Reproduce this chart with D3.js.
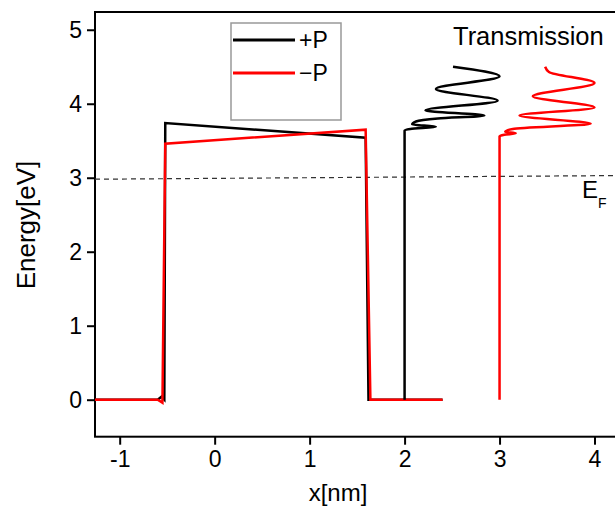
<!DOCTYPE html>
<html>
<head>
<meta charset="utf-8">
<script src="https://cdn.jsdelivr.net/npm/d3@7"></script>
<style>
  body { margin: 0; background: #fff; }
  svg { font-family: "Liberation Sans", Arial, sans-serif; }
</style>
</head>
<body>
<svg id="chart" width="615" height="509"></svg>
<script>
// barrier profiles (x in nm, energy in eV)
const plusX  = [-1.26, -0.6, -0.56, -0.53, -0.52, 1.59, 1.62, 2.4]
const plusE  = [0, 0, 0.04, 0, 3.74, 3.54, 0, 0]
const minusX = [-1.26, -0.6, -0.55, -0.52, 1.59, 1.64, 2.4]
const minusE = [0, 0, -0.04, 3.46, 3.65, 0, 0]

// transmission curves, drawn at x = offset + T
const transPlusOffset = 2
const transPlusE = [0, 3.64, 3.66, 3.69, 3.72, 3.76, 3.80, 3.84, 3.91, 4.04, 4.20, 4.37, 4.50]
const transPlusT = [0, 0, 0.06, 0.33, 0.08, 0.12, 0.35, 0.84, 0.22, 0.98, 0.33, 1.0, 0.51]
const transMinusOffset = 3
const transMinusE = [0, 3.56, 3.58, 3.60, 3.62, 3.66, 3.73, 3.84, 3.95, 4.10, 4.28, 4.43, 4.50]
const transMinusT = [0, 0, 0.05, 0.17, 0.06, 0.14, 0.96, 0.21, 1.0, 0.35, 1.0, 0.52, 0.48]

// Fermi level
const fermiX = [-1.26, 4.3]
const fermiE = [2.98, 3.03]

const xTicks = [-1, 0, 1, 2, 3, 4]
const yTicks = [0, 1, 2, 3, 4, 5]
const legendLabels = ["+P", "\u2212P"]
const colors = ["#000000", "#ff0000"]

const svg = d3.select("#chart")
const margin = { top: 12, left: 95 }
const plotW = 528, plotH = 424.7

const x = d3.scaleLinear().domain([-1.26, 4.3]).range([margin.left, margin.left + plotW])
const y = d3.scaleLinear().domain([-0.5, 5.24]).range([margin.top + plotH, margin.top])

const fmt = d => String(d)  // plain hyphen for negatives, like the original

// axes
const xAxis = d3.axisBottom(x).tickValues(xTicks).tickSize(8).tickPadding(6).tickFormat(fmt)
const xMinor = d3.axisBottom(x).tickValues(d3.range(-1, 4.5, 0.5)).tickSize(4).tickFormat("")
const yAxis = d3.axisLeft(y).tickValues(yTicks).tickSize(8).tickPadding(5).tickFormat(fmt)
const yMinor = d3.axisLeft(y).tickValues(d3.range(-0.5, 5.1, 0.5)).tickSize(4).tickFormat("")

const gx = svg.append("g").attr("transform", `translate(0,${y.range()[0]})`)
gx.call(xMinor)
gx.call(xAxis)
const gy = svg.append("g").attr("transform", `translate(${margin.left},0)`)
gy.call(yMinor)
gy.call(yAxis)
svg.selectAll(".domain").remove()
svg.selectAll(".tick line").attr("stroke", "#000").attr("stroke-width", 2)
svg.selectAll(".tick text").attr("font-size", 23).attr("fill", "#000")
  .attr("font-family", "'Liberation Sans', Arial, sans-serif")

// frame
svg.append("rect")
  .attr("x", margin.left).attr("y", margin.top)
  .attr("width", plotW).attr("height", plotH)
  .attr("fill", "none").attr("stroke", "#000").attr("stroke-width", 2)

// fermi level
svg.append("line")
  .attr("x1", x(fermiX[0])).attr("x2", x(fermiX[1]))
  .attr("y1", y(fermiE[0])).attr("y2", y(fermiE[1]))
  .attr("stroke", "#333").attr("stroke-width", 1.2).attr("stroke-dasharray", "5,4")

const line = d3.line().x(d => x(d[0])).y(d => y(d[1]))
const tLine = d3.line().x(d => x(d[0])).y(d => y(d[1])).curve(d3.curveMonotoneY)

svg.append("path").datum(d3.zip(plusX, plusE)).attr("d", line)
  .attr("fill", "none").attr("stroke", colors[0]).attr("stroke-width", 2.5)
svg.append("path").datum(d3.zip(minusX, minusE)).attr("d", line)
  .attr("fill", "none").attr("stroke", colors[1]).attr("stroke-width", 2.5)

svg.append("path").datum(transPlusE.map((e, i) => [transPlusOffset + transPlusT[i], e])).attr("d", tLine)
  .attr("fill", "none").attr("stroke", colors[0]).attr("stroke-width", 2.5)
svg.append("path").datum(transMinusE.map((e, i) => [transMinusOffset + transMinusT[i], e])).attr("d", tLine)
  .attr("fill", "none").attr("stroke", colors[1]).attr("stroke-width", 2.5)

// legend
const lg = svg.append("g").attr("transform", "translate(231,23)")
lg.append("rect").attr("width", 110).attr("height", 97)
  .attr("fill", "#fff").attr("stroke", "#999").attr("stroke-width", 1.5)
legendLabels.forEach((lab, i) => {
  lg.append("line").attr("x1", 2).attr("x2", 64).attr("y1", 17 + i * 33).attr("y2", 17 + i * 33)
    .attr("stroke", colors[i]).attr("stroke-width", 3)
  lg.append("text").attr("x", 68).attr("y", 25 + i * 33).attr("font-size", 23).text(lab)
})

// labels
svg.append("text").attr("x", 453).attr("y", 45).attr("font-size", 25.5).text("Transmission")
const ef = svg.append("text").attr("x", 582).attr("y", 198).attr("font-size", 24)
ef.append("tspan").text("E")
ef.append("tspan").attr("font-size", 14).attr("dy", 10).text("F")

svg.append("text").attr("x", 338).attr("y", 501).attr("text-anchor", "middle")
  .attr("font-size", 24).text("x[nm]")
svg.append("text").attr("transform", "translate(35,225) rotate(-90)").attr("text-anchor", "middle")
  .attr("font-size", 26).text("Energy[eV]")
</script>
</body>
</html>
